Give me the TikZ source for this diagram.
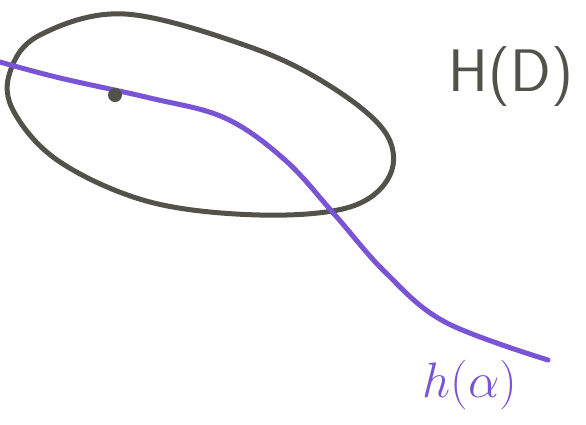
\documentclass[tikz,border=0pt]{standalone}
\usepackage{tikz}
\usepackage{xcolor}
\usetikzlibrary{positioning}
\definecolor{markergray}{RGB}{82,82,74}
\definecolor{markerpurple}{RGB}{121,84,212}
\tikzstyle{blobline}  = [draw=markergray, line width=5pt, line cap=round, line join=round]
\tikzstyle{curveline} = [draw=markerpurple, line width=5pt, line cap=round]
\tikzstyle{pointdot}  = [circle, fill=markergray, inner sep=0pt, minimum size=14pt]
\tikzstyle{setlabel}  = [text=markergray, font=\sffamily\fontsize{60}{60}\selectfont]
\tikzstyle{pathlabel} = [text=markerpurple, font=\Huge, scale=2]
\begin{document}
\begin{tikzpicture}[x=1pt, y=-1pt]
    \useasboundingbox (0,0) rectangle (586,424);
    % the set
    \draw[blobline] plot[smooth cycle, tension=0.6] coordinates {(125,14) (250,47) (330,86) (385,132) (390,175) (350,207) (260,215) (150,202) (60,162) (14,112) (10,72) (40,35)};
    % the path through the point
    \draw[curveline] plot[smooth, tension=0.6] coordinates {(0,62) (60,78) (150,98) (225,118) (285,160) (335,215) (385,272) (445,322) (548,360)};
    \node (pt) [pointdot] at (115,95) {};
    \node (HD) [setlabel] at (511,77) {H(D)};
    \node (ha) [pathlabel] at (470,385) {$h(\alpha)$};
\end{tikzpicture}
\end{document}
